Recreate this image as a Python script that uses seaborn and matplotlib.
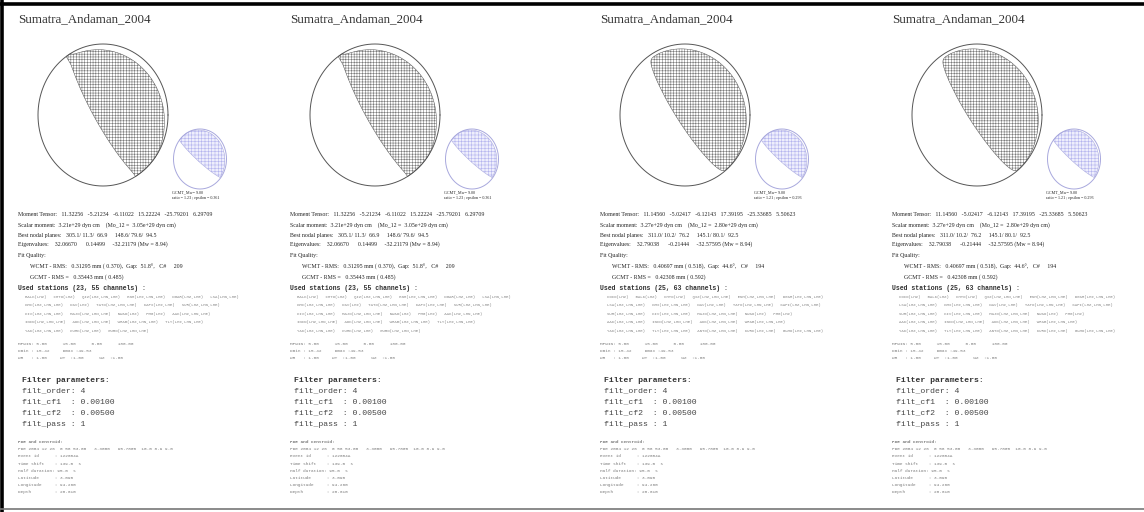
import numpy as np
import matplotlib
matplotlib.use("Agg")
import matplotlib.pyplot as plt
from matplotlib.lines import Line2D
import seaborn as sns

sns.set_theme(style="white")
plt.rcParams["hatch.linewidth"] = 0.4

W, H = 1144, 512
SERIF = ["Liberation Serif", "DejaVu Serif"]
MONO = ["Liberation Mono", "DejaVu Sans Mono"]

TITLE = "Sumatra_Andaman_2004"

# ---- inversion results (two solutions, each shown twice) ----
mt_a = [11.32256, -5.21234, -6.11022, 15.22224, -25.79201, 6.29709]   # Mrr Mtt Mpp Mrt Mrp Mtp
mt_b = [11.14560, -5.02417, -6.12143, 17.39195, -25.33685, 5.50623]
panel_mt = [mt_a, mt_a, mt_b, mt_b]
scalar_moment = ["3.21e+29", "3.21e+29", "3.27e+29", "3.27e+29"]
mo_12 = ["3.05e+29", "3.05e+29", "2.80e+29", "2.80e+29"]
plane_1 = [(305.1, 11.3, 66.9), (305.1, 11.3, 66.9), (311.0, 10.2, 76.2), (311.0, 10.2, 76.2)]
plane_2 = [(148.6, 79.6, 94.5), (148.6, 79.6, 94.5), (145.1, 80.1, 92.5), (145.1, 80.1, 92.5)]
eigenvalues = [(32.06670, 0.14499, -32.21179), (32.06670, 0.14499, -32.21179),
               (32.79038, -0.21444, -32.57595), (32.79038, -0.21444, -32.57595)]
mw = [8.94, 8.94, 8.94, 8.94]
wcmt_rms = [0.31295, 0.31295, 0.40697, 0.40697]
wcmt_norm = [0.370, 0.370, 0.518, 0.518]
gap = [51.8, 51.8, 44.6, 44.6]
c_number = [209, 209, 194, 194]
gcmt_rms = [0.35443, 0.35443, 0.42308, 0.42308]
gcmt_norm = [0.485, 0.485, 0.592, 0.592]
ratio = [1.23, 1.23, 1.21, 1.21]
epsilon = [0.361, 0.361, 0.293, 0.293]
gcmt_mw = 9.00
gcmt_plane = (329.0, 8.0, 110.0)

stations_a = [
    ["BALK(LHZ)", "CHTO(LHZ)", "QIZ(LHZ,LHN,LHE)", "ENH(LHZ,LHN,LHE)", "DGAR(LHZ,LHE)", "LSA(LHN,LHE)"],
    ["KMI(LHZ,LHN,LHE)", "DAV(LHZ)", "TATO(LHZ,LHN,LHE)", "KAPI(LHZ,LHE)", "SUR(LHZ,LHN,LHE)"],
    ["KIV(LHZ,LHN,LHE)", "MAJO(LHZ,LHN,LHE)", "NWAO(LHZ)", "PMG(LHZ)", "AAK(LHZ,LHN,LHE)"],
    ["INCN(LHZ,LHN,LHE)", "ADK(LHZ,LHN,LHE)", "WRAB(LHZ,LHN,LHE)", "TLY(LHZ,LHN,LHE)"],
    ["YAK(LHZ,LHN,LHE)", "KURK(LHZ,LHE)", "GUMO(LHZ,LHN,LHE)"],
]
stations_b = [
    ["COCO(LHZ)", "BALK(LHZ)", "CHTO(LHZ)", "QIZ(LHZ,LHN,LHE)", "ENH(LHZ,LHN,LHE)", "DGAR(LHZ,LHN,LHE)"],
    ["LSA(LHZ,LHN,LHE)", "KMI(LHZ,LHN,LHE)", "DAV(LHZ,LHE)", "TATO(LHZ,LHN,LHE)", "KAPI(LHZ,LHN,LHE)"],
    ["SUR(LHZ,LHN,LHE)", "KIV(LHZ,LHN,LHE)", "MAJO(LHZ,LHN,LHE)", "NWAO(LHZ)", "PMG(LHZ)"],
    ["AAK(LHZ,LHN,LHE)", "INCN(LHZ,LHN,LHE)", "ADK(LHZ,LHN,LHE)", "WRAB(LHZ,LHN,LHE)"],
    ["YAK(LHZ,LHN,LHE)", "TLY(LHZ,LHN,LHE)", "ANTO(LHZ,LHN,LHE)", "KURK(LHZ,LHE)", "GUMO(LHZ,LHN,LHE)"],
]
panel_stations = [stations_a, stations_a, stations_b, stations_b]

mpwin = [5.00, 15.00, 0.00, 180.00]
dmin, dmax = 15.42, 49.53
weights = [1.00, 1.00, 1.00]
filt_order, filt_cf1, filt_cf2, filt_pass = 4, 0.00100, 0.00500, 1
pde = "PDE 2004 12 26  0 58 53.00   3.3000   95.7800  10.0 8.9 9.0"
event_id = "122604A"
time_shift, half_duration = 139.0, 95.0
latitude, longitude, depth = 3.090, 94.260, 28.610

panel_x = [0, 272, 582, 874]


def to_ned(m):
    mrr, mtt, mpp, mrt, mrp, mtp = m
    return np.array([[mtt, -mtp, mrt],
                     [-mtp, mpp, -mrp],
                     [mrt, -mrp, mrr]])


def dc_ned(strike, dip, rake):
    s, d, r = np.radians([strike, dip, rake])
    mnn = -(np.sin(d) * np.cos(r) * np.sin(2 * s) + np.sin(2 * d) * np.sin(r) * np.sin(s) ** 2)
    mne = np.sin(d) * np.cos(r) * np.cos(2 * s) + 0.5 * np.sin(2 * d) * np.sin(r) * np.sin(2 * s)
    mnd = -(np.cos(d) * np.cos(r) * np.cos(s) + np.cos(2 * d) * np.sin(r) * np.sin(s))
    mee = np.sin(d) * np.cos(r) * np.sin(2 * s) - np.sin(2 * d) * np.sin(r) * np.cos(s) ** 2
    med = -(np.cos(d) * np.cos(r) * np.sin(s) - np.cos(2 * d) * np.sin(r) * np.cos(s))
    mdd = np.sin(2 * d) * np.sin(r)
    return np.array([[mnn, mne, mnd], [mne, mee, med], [mnd, med, mdd]])


def compression_outline(M, n_az=1441, n_r=1200):
    """Outline of the compressional lobe (lower hemisphere, equal-area),
    traced ray by ray outward from the centre."""
    az = np.linspace(0, 2 * np.pi, n_az)
    rr = np.linspace(0, 1, n_r)
    A, R = np.meshgrid(az, rr, indexing="ij")
    inc = 2 * np.arcsin(R / np.sqrt(2))
    n = np.stack([np.sin(inc) * np.cos(A), np.sin(inc) * np.sin(A), np.cos(inc)])
    pol = np.einsum("iab,ij,jab->ab", n, M, n)
    neg = pol <= 0
    first = np.where(neg.any(axis=1), neg.argmax(axis=1), n_r - 1)
    r_edge = rr[first]
    return r_edge * np.sin(az), r_edge * np.cos(az)


def outline(ax, x, y, color, lw):
    sns.lineplot(x=x, y=y, sort=False, estimator=None, errorbar=None,
                 ax=ax, color=color, lw=lw)


def beachball(cx, cy, rx, ry, M, hatch, hatch_color, face, edge, lw):
    m = 3
    ax = fig.add_axes([(cx - rx - m) / W, 1 - (cy + ry + m) / H,
                       (2 * rx + 2 * m) / W, (2 * ry + 2 * m) / H])
    px, py = compression_outline(M)
    ax.fill(px, py, facecolor=face, edgecolor=hatch_color, hatch=hatch, lw=0)
    outline(ax, px, py, edge, 0.35)
    t = np.linspace(0, 2 * np.pi, 361)
    outline(ax, np.cos(t), np.sin(t), edge, lw)
    ax.set_xlim(-1 - m / rx, 1 + m / rx)
    ax.set_ylim(-1 - m / ry, 1 + m / ry)
    ax.axis("off")


def txt(x, y, s, size, family, color="#222222", weight="normal"):
    fig.text(x / W, 1 - y / H, s, fontsize=size, family=family, color=color,
             weight=weight, va="center", ha="left")


fig = plt.figure(figsize=(W / 100, H / 100), dpi=100)
fig.patch.set_facecolor("white")

for p, x0 in enumerate(panel_x):
    txt(x0 + 18, 19, TITLE, 9.4, SERIF, "#333333")
    beachball(x0 + 103, 115, 65, 71, to_ned(panel_mt[p]), "++++++", "#7c7c7c", "none", "#555555", 0.7)
    beachball(x0 + 200, 159, 26.5, 30, dc_ned(*gcmt_plane), "+++++", "#b4b4ee", "#eeeefc", "#a8a8dd", 0.7)
    txt(x0 + 172, 192, f"GCMT_Mw= {gcmt_mw:4.2f}", 3.0, SERIF)
    txt(x0 + 172, 198, f"ratio = {ratio[p]:4.2f} ; epsilon = {epsilon[p]:5.3f}", 3.0, SERIF)

    mtv = panel_mt[p]
    s1, d1, r1 = plane_1[p]
    s2, d2, r2 = plane_2[p]
    e1, e2, e3 = eigenvalues[p]
    bx = x0 + 18
    fs = 4.2
    txt(bx, 215, "Moment Tensor:   " + "   ".join(f"{v:.5f}" for v in mtv), fs, SERIF)
    txt(bx, 225, f"Scalar moment:  {scalar_moment[p]} dyn cm    (Mo_12 =  {mo_12[p]} dyn cm)", fs, SERIF)
    txt(bx, 235, f"Best nodal planes:   {s1:.1f}/ {d1:.1f}/  {r1:.1f}     {s2:.1f}/ {d2:.1f}/  {r2:.1f}", fs, SERIF)
    txt(bx, 244, f"Eigenvalues:    {e1:.5f}      {e2:.5f}     {e3:.5f} (Mw = {mw[p]:.2f})", fs, SERIF)
    txt(bx, 256, "Fit Quality:", fs, SERIF)
    txt(bx + 12, 267, f"WCMT - RMS:   {wcmt_rms[p]:.5f} mm ( {wcmt_norm[p]:.3f}),  Gap:  {gap[p]:.1f}\u00b0,   C#     {c_number[p]}", fs, SERIF)
    txt(bx + 12, 277, f"GCMT - RMS =   {gcmt_rms[p]:.5f} mm ( {gcmt_norm[p]:.3f})", fs, SERIF)

    st = panel_stations[p]
    n_st = sum(len(row) for row in st)
    n_ch = sum(s.count("LH") for row in st for s in row)
    txt(bx, 288, f"Used stations ({n_st}, {n_ch} channels) :", 4.7, MONO, "#333333", "bold")
    for k, row in enumerate(st):
        txt(bx + 7, 297 + 8.4 * k, "   ".join(row), 2.9, MONO, "#888888")

    txt(bx, 344, "MPWIN: " + "      ".join(f"{v:.2f}" for v in mpwin), 3.2, MONO, "#808080")
    txt(bx, 351, f"Dmin : {dmin:.2f}     Dmax :{dmax:.2f}", 3.2, MONO, "#808080")
    txt(bx, 358, f"wR   : {weights[0]:.2f}     wT  :{weights[1]:.2f}      wZ  :{weights[2]:.2f}", 3.2, MONO, "#808080")

    txt(bx + 4, 380, "Filter parameters:", 5.9, MONO, "#333333", "bold")
    txt(bx + 4, 391, f"filt_order: {filt_order}", 5.9, MONO, "#444444")
    txt(bx + 4, 402, f"filt_cf1  : {filt_cf1:.5f}", 5.9, MONO, "#444444")
    txt(bx + 4, 413, f"filt_cf2  : {filt_cf2:.5f}", 5.9, MONO, "#444444")
    txt(bx + 4, 424, f"filt_pass : {filt_pass}", 5.9, MONO, "#444444")

    pde_lines = [
        ("PDE and Centroid:", "bold"),
        (pde, "normal"),
        (f"Event id      : {event_id}", "normal"),
        (f"Time shift    : {time_shift:.1f}  s", "normal"),
        (f"Half duration: {half_duration:.1f}  s", "normal"),
        (f"Latitude      : {latitude:.3f}", "normal"),
        (f"Longitude     : {longitude:.3f}", "normal"),
        (f"Depth         : {depth:.3f}", "normal"),
    ]
    for k, (s, w) in enumerate(pde_lines):
        txt(bx, 442 + 7.2 * k, s, 3.2, MONO, "#7a7a7a", w)

# page frame
fig.add_artist(Line2D([0, 1], [1 - 3.5 / H, 1 - 3.5 / H], color="black", lw=2.6, transform=fig.transFigure))
fig.add_artist(Line2D([2 / W, 2 / W], [0, 1], color="black", lw=2.6, transform=fig.transFigure))
fig.add_artist(Line2D([0, 1], [1 - 508.5 / H, 1 - 508.5 / H], color="#777777", lw=1.2, transform=fig.transFigure))

fig.savefig("out.png", dpi=100, facecolor="white")
